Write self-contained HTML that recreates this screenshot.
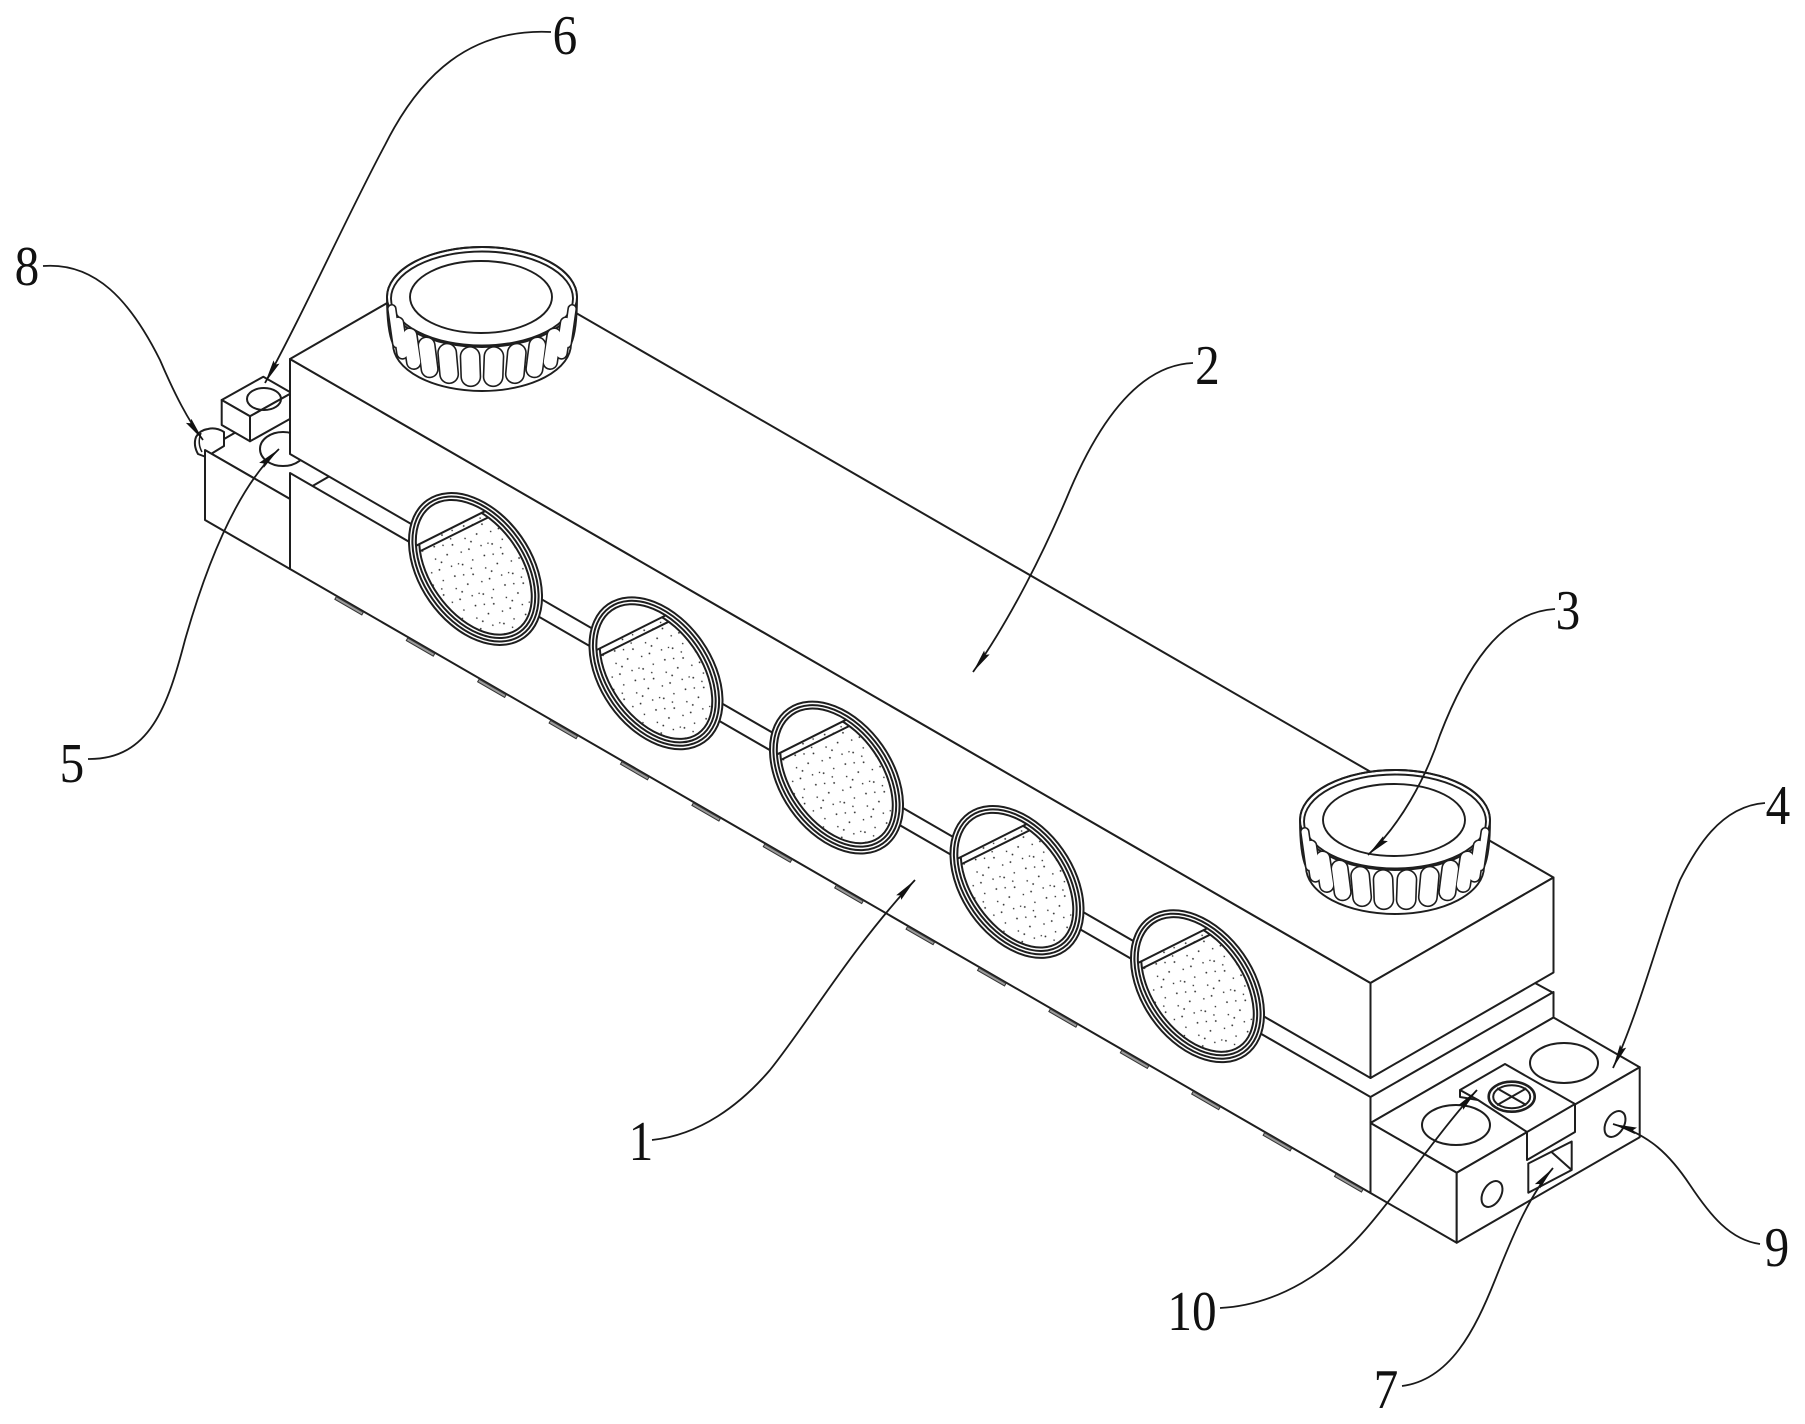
<!DOCTYPE html>
<html>
<head>
<meta charset="utf-8">
<style>
html,body{margin:0;padding:0;background:#fff;}
svg{display:block;}
text{font-family:"Liberation Serif",serif;fill:#111;}
</style>
</head>
<body>
<svg xmlns="http://www.w3.org/2000/svg" width="1805" height="1424" viewBox="0 0 1805 1424">
<defs>
  <pattern id="dots" width="36" height="36" patternUnits="userSpaceOnUse">
    <circle cx="3" cy="5" r="0.9" fill="#222"/>
    <circle cx="14" cy="2" r="0.8" fill="#222"/>
    <circle cx="25" cy="8" r="0.9" fill="#222"/>
    <circle cx="33" cy="3" r="0.8" fill="#222"/>
    <circle cx="8" cy="15" r="0.9" fill="#222"/>
    <circle cx="20" cy="18" r="0.8" fill="#222"/>
    <circle cx="30" cy="21" r="0.9" fill="#222"/>
    <circle cx="5" cy="27" r="0.8" fill="#222"/>
    <circle cx="16" cy="30" r="0.9" fill="#222"/>
    <circle cx="27" cy="33" r="0.8" fill="#222"/>
    <circle cx="11" cy="24" r="0.9" fill="#222"/>
    <circle cx="34" cy="13" r="0.8" fill="#222"/>
    <circle cx="22" cy="11" r="0.7" fill="#222"/>
  </pattern>
  <marker id="ah" markerUnits="userSpaceOnUse" viewBox="0 0 24 8" markerWidth="24" markerHeight="8" refX="24" refY="4" orient="auto">
    <path d="M0,0.6 L24,4 L0,7.4 L3,4 Z" fill="#111"/>
  </marker>
  <clipPath id="chord"><polygon points="-200,44.8 200,-150 200,200 -200,200"/></clipPath>

  <g id="oval" stroke="#1e1e1e" stroke-width="2">
    <ellipse rx="84" ry="56" transform="rotate(55)" fill="#fff"/>
    <ellipse rx="80.5" ry="52.5" transform="rotate(55)" fill="none"/>
    <ellipse rx="77" ry="49" transform="rotate(55)" fill="none"/>
    <g clip-path="url(#chord)">
      <ellipse rx="73.5" ry="45.5" transform="rotate(55)" fill="url(#dots)"/>
    </g>
    <line x1="-59.3" y1="-23.3" x2="9.5" y2="-57.8"/>
    <line x1="-56" y1="-17.5" x2="12.5" y2="-51.5"/>
  </g>

  <g id="knob" stroke="#1e1e1e" stroke-width="1.9">
    <path d="M-95,0 C-95,22 -93,38 -89,47 A89,47 0 0 0 89,47 C93,38 95,22 95,0 A95,50 0 0 0 -95,0 Z" fill="#fff"/>
    <ellipse cx="0" cy="0" rx="95" ry="50" fill="none"/>
    <ellipse cx="0" cy="1.5" rx="91" ry="47" fill="none"/>
    <ellipse cx="-1" cy="0" rx="71" ry="36" fill="#fff"/>
    <g stroke-linecap="round">
      <g stroke="#1e1e1e">
        <line x1="11.9" y1="59.5" x2="11.2" y2="79.7" stroke-width="20.9"/>
        <line x1="-11.9" y1="59.5" x2="-11.2" y2="79.7" stroke-width="20.9"/>
        <line x1="34.8" y1="55.8" x2="32.9" y2="77.1" stroke-width="20"/>
        <line x1="-34.8" y1="55.8" x2="-32.9" y2="77.1" stroke-width="20"/>
        <line x1="55.4" y1="48.5" x2="52.4" y2="72.1" stroke-width="18.3"/>
        <line x1="-55.4" y1="48.5" x2="-52.4" y2="72.1" stroke-width="18.3"/>
        <line x1="72.2" y1="38.3" x2="68.2" y2="65" stroke-width="15.9"/>
        <line x1="-72.2" y1="38.3" x2="-68.2" y2="65" stroke-width="15.9"/>
        <line x1="84.1" y1="25.8" x2="79.5" y2="56.2" stroke-width="13"/>
        <line x1="-84.1" y1="25.8" x2="-79.5" y2="56.2" stroke-width="13"/>
        <line x1="90.2" y1="11.8" x2="85.3" y2="46.6" stroke-width="9.7"/>
        <line x1="-90.2" y1="11.8" x2="-85.3" y2="46.6" stroke-width="9.7"/>
      </g>
      <g stroke="#fff">
        <line x1="11.9" y1="59.5" x2="11.2" y2="79.7" stroke-width="17.7"/>
        <line x1="-11.9" y1="59.5" x2="-11.2" y2="79.7" stroke-width="17.7"/>
        <line x1="34.8" y1="55.8" x2="32.9" y2="77.1" stroke-width="16.8"/>
        <line x1="-34.8" y1="55.8" x2="-32.9" y2="77.1" stroke-width="16.8"/>
        <line x1="55.4" y1="48.5" x2="52.4" y2="72.1" stroke-width="15.1"/>
        <line x1="-55.4" y1="48.5" x2="-52.4" y2="72.1" stroke-width="15.1"/>
        <line x1="72.2" y1="38.3" x2="68.2" y2="65" stroke-width="12.7"/>
        <line x1="-72.2" y1="38.3" x2="-68.2" y2="65" stroke-width="12.7"/>
        <line x1="84.1" y1="25.8" x2="79.5" y2="56.2" stroke-width="9.8"/>
        <line x1="-84.1" y1="25.8" x2="-79.5" y2="56.2" stroke-width="9.8"/>
        <line x1="90.2" y1="11.8" x2="85.3" y2="46.6" stroke-width="6.5"/>
        <line x1="-90.2" y1="11.8" x2="-85.3" y2="46.6" stroke-width="6.5"/>
      </g>
    </g>
  </g>
</defs>

<rect width="1805" height="1424" fill="#fff"/>

<g stroke="#1e1e1e" stroke-width="2" stroke-linejoin="round" fill="#fff">
  <!-- block 5 top face -->
  <polygon points="205,450 290,499 473,393.5 388,344.5"/>
  <!-- block 6 -->
  <polygon points="221.7,400 263.3,376.7 291.6,393 250,416.3"/>
  <polygon points="221.7,400 250,416.3 250,441.3 221.7,425"/>
  <polygon points="250,416.3 291.6,393 291.6,418 250,441.3"/>
  <ellipse cx="264" cy="399" rx="17" ry="11" fill="none"/>
  <!-- hole 5 -->
  <ellipse cx="283" cy="449" rx="23" ry="17"/>
  <!-- peg 8 -->
  <path d="M206,457 L198,454 Q193,445 196,437 Q200,430 208,429 Q216,427 224,432 L224,446 Z"/>
  <path d="M201,433 Q197,443 202,452" fill="none" stroke-width="1.5"/>
  <!-- block 5 front face -->
  <polygon points="205,450 290,499 290,569 205,520"/>
  <!-- block 1 front face -->
  <polygon points="290,473 1370.5,1097 1370.5,1193 290,569"/>
  <!-- block 1 right strip -->
  <polygon points="1370.5,1097 1553.5,992 1553.5,1017.5 1370.5,1123"/>
  <!-- block 2 -->
  <polygon points="290,359 1370.5,983 1370.5,1078 290,454"/>
  <polygon points="290,359 1370.5,983 1553.5,877.5 473,253.5"/>
  <polygon points="1370.5,983 1553.5,877.5 1553.5,972.5 1370.5,1078"/>
  <line x1="1535" y1="983" x2="1553.5" y2="993"/>
</g>

<!-- ovals -->
<use href="#oval" x="475.5" y="569"/>
<use href="#oval" x="656" y="673.3"/>
<use href="#oval" x="836.5" y="777.6"/>
<use href="#oval" x="1017" y="881.9"/>
<use href="#oval" x="1197.5" y="986.2"/>

<!-- knobs -->
<use href="#knob" x="482" y="297"/>
<use href="#knob" x="1395" y="820"/>

<!-- block 4 -->
<g stroke="#1e1e1e" stroke-width="2" stroke-linejoin="round" fill="#fff">
  <polygon points="1370.5,1123 1456.7,1172.7 1639.7,1067.2 1553.5,1017.5"/>
  <polygon points="1370.5,1123 1456.7,1172.7 1456.7,1242.7 1370.5,1193"/>
  <polygon points="1456.7,1172.7 1639.7,1067.2 1639.7,1137.2 1456.7,1242.7"/>
  <ellipse cx="1456" cy="1125" rx="34" ry="20"/>
  <ellipse cx="1564" cy="1063" rx="34" ry="20"/>
  <path d="M1460,1090 L1505,1064 L1575,1104 L1575,1132 L1527,1160 L1527,1132 L1478,1100 L1460,1097 Z"/>
  <line x1="1527" y1="1132" x2="1575" y2="1104"/>
  <line x1="1460" y1="1090" x2="1478" y2="1100"/>
  <ellipse cx="1511.7" cy="1096.7" rx="23" ry="15" stroke-width="2.6"/>
  <ellipse cx="1511.7" cy="1096.7" rx="18.5" ry="11.5" fill="none"/>
  <line x1="1497" y1="1088.3" x2="1526.4" y2="1105.1"/>
  <line x1="1497" y1="1105.1" x2="1526.4" y2="1088.3"/>
  <polygon points="1528.3,1163.5 1571.7,1141.5 1571.7,1170 1528.3,1192.7"/>
  <line x1="1551.5" y1="1152" x2="1571.7" y2="1170"/>
  <ellipse cx="1615" cy="1124" rx="14" ry="9" transform="rotate(-60 1615 1124)"/>
  <ellipse cx="1492" cy="1194" rx="14" ry="9" transform="rotate(-60 1492 1194)"/>
</g>

<!-- bottom tabs -->
<g transform="translate(205,520) rotate(30)" fill="#9a9a9a" stroke="#333" stroke-width="1">
  <rect x="152.1" y="0.8" width="31.2" height="3"/>
  <rect x="234.6" y="0.8" width="31.2" height="3"/>
  <rect x="317.0" y="0.8" width="31.2" height="3"/>
  <rect x="399.5" y="0.8" width="31.2" height="3"/>
  <rect x="481.9" y="0.8" width="31.2" height="3"/>
  <rect x="564.4" y="0.8" width="31.2" height="3"/>
  <rect x="646.8" y="0.8" width="31.2" height="3"/>
  <rect x="729.3" y="0.8" width="31.2" height="3"/>
  <rect x="811.7" y="0.8" width="31.2" height="3"/>
  <rect x="894.2" y="0.8" width="31.2" height="3"/>
  <rect x="976.6" y="0.8" width="31.2" height="3"/>
  <rect x="1059.1" y="0.8" width="31.2" height="3"/>
  <rect x="1141.5" y="0.8" width="31.2" height="3"/>
  <rect x="1224.0" y="0.8" width="31.2" height="3"/>
  <rect x="1306.4" y="0.8" width="31.2" height="3"/>
</g>

<!-- leader lines -->
<g fill="none" stroke="#1a1a1a" stroke-width="1.8" marker-end="url(#ah)">
  <path d="M551,32 C470,28 420,75 385,145 C350,210 305,310 265,383"/>
  <path d="M43,266 C95,262 130,300 160,360 C175,395 188,420 203,440"/>
  <path d="M88,759 C150,760 168,705 185,640 C205,570 235,490 279,449"/>
  <path d="M1193,363 C1140,365 1100,420 1070,490 C1045,550 1010,620 973,672"/>
  <path d="M1555,609 C1500,612 1465,670 1440,735 C1425,780 1400,825 1368,855"/>
  <path d="M652,1140 C700,1135 740,1105 770,1070 C810,1020 850,950 915,880"/>
  <path d="M1765,803 C1720,806 1695,850 1680,880 C1660,930 1640,1010 1613,1068"/>
  <path d="M1760,1244 C1730,1240 1710,1215 1690,1185 C1670,1155 1650,1135 1613,1124"/>
  <path d="M1220,1308 C1280,1305 1330,1270 1365,1230 C1400,1190 1440,1130 1477,1090"/>
  <path d="M1402,1386 C1450,1380 1475,1330 1495,1280 C1515,1230 1530,1195 1553,1168"/>
</g>

<!-- labels -->
<g font-size="56" text-anchor="middle">
  <text transform="translate(565,54) scale(0.88,1)">6</text>
  <text transform="translate(27,285) scale(0.88,1)">8</text>
  <text transform="translate(72,782) scale(0.88,1)">5</text>
  <text transform="translate(1207.5,384) scale(0.88,1)">2</text>
  <text transform="translate(1568,629) scale(0.88,1)">3</text>
  <text transform="translate(1778,824) scale(0.88,1)">4</text>
  <text transform="translate(1777,1266) scale(0.88,1)">9</text>
  <text transform="translate(1192,1330) scale(0.88,1)">10</text>
  <text transform="translate(1386,1408) scale(0.88,1)">7</text>
  <text transform="translate(641,1160) scale(0.88,1)">1</text>
</g>
</svg>
</body>
</html>
